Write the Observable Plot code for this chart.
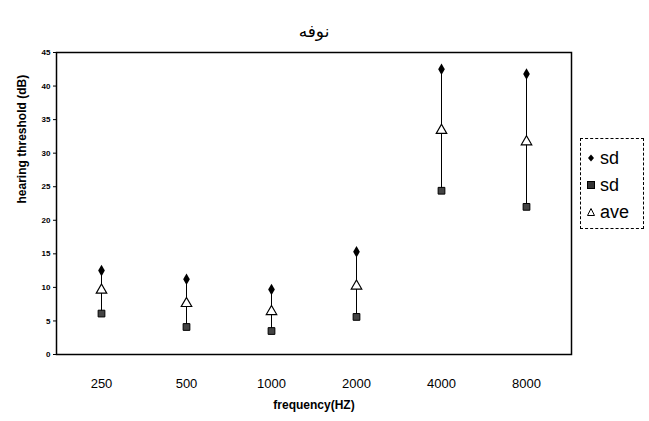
<!DOCTYPE html>
<html>
<head>
<meta charset="utf-8">
<script src="https://cdn.jsdelivr.net/npm/d3@7"></script>
<script src="https://cdn.jsdelivr.net/npm/@observablehq/plot@0.6"></script>
<style>
  body { margin: 0; background: #fff; font-family: "Liberation Sans", Arial, sans-serif; }
  #wrap { position: relative; width: 649px; height: 421px; }
  #legend { position: absolute; left: 580px; top: 138px; width: 64px; height: 91px;
    border: 1px dashed #000; box-sizing: border-box; font-size: 18px; color: #000; }
  .item { position: absolute; left: 6px; display: flex; align-items: center; height: 20px; }
  .item svg { margin-right: 5px; }
</style>
</head>
<body>
<div id="wrap"></div>
<script>
const freqs = ["250", "500", "1000", "2000", "4000", "8000"];
const sdHigh = [12.5, 11.2, 9.7, 15.3, 42.5, 41.8];
const sdLow = [6.1, 4.1, 3.5, 5.6, 24.4, 22.0];
const ave = [9.6, 7.6, 6.4, 10.2, 33.4, 31.7];
const yTicks = [0, 5, 10, 15, 20, 25, 30, 35, 40, 45];

const rows = freqs.map((f, i) => ({ f, hi: sdHigh[i], lo: sdLow[i], ave: ave[i] }));

const chart = Plot.plot({
  width: 649,
  height: 421,
  marginTop: 52,
  marginBottom: 67,
  marginLeft: 56,
  marginRight: 78,
  style: { fontFamily: "Liberation Sans, Arial, sans-serif", background: "#fff" },
  x: { type: "point", domain: freqs, padding: 0.5, label: null },
  y: { domain: [0, 45], ticks: yTicks, label: null },
  marks: [
    Plot.frame({ stroke: "#000", strokeWidth: 1.5 }),
    Plot.axisY({ ticks: yTicks, tickSize: 3, tickPadding: 3, fontSize: 8, fontWeight: "bold", label: null }),
    Plot.axisX({ tickSize: 0, tickPadding: 24, fontSize: 13, label: null }),
    Plot.text(["hearing threshold (dB)"], { frameAnchor: "left", rotate: -90, dx: -34, fontSize: 12, fontWeight: "bold" }),
    Plot.text(["frequency(HZ)"], { frameAnchor: "bottom", dy: 54, fontSize: 12, fontWeight: "bold" }),
    Plot.text(["نوفه"], { frameAnchor: "top", dy: -28, fontSize: 17, fontFamily: "Noto Sans, DejaVu Sans, sans-serif" }),
    Plot.ruleX(rows, { x: "f", y1: "lo", y2: "hi", stroke: "#000", strokeWidth: 1 }),
    Plot.dot(rows, { x: "f", y: "hi", symbol: "diamond", r: 3.5, fill: "#000" }),
    Plot.dot(rows, { x: "f", y: "lo", symbol: "square", r: 3.8, fill: "#444", stroke: "#000", strokeWidth: 1 }),
    Plot.dot(rows, { x: "f", y: "ave", symbol: "triangle2", r: 5, fill: "#fff", stroke: "#000", strokeWidth: 1.2 })
  ]
});
const wrap = document.getElementById("wrap");
wrap.appendChild(chart);

const legend = document.createElement("div");
legend.id = "legend";
legend.innerHTML = `
  <div class="item" style="top:9px"><svg width="8" height="10"><path d="M4,1.5L7,5L4,8.5L1,5Z" fill="#000"/></svg>sd</div>
  <div class="item" style="top:36px"><svg width="8" height="10"><rect x="0.5" y="1.5" width="7" height="7" fill="#333" stroke="#000"/></svg>sd</div>
  <div class="item" style="top:63px"><svg width="8" height="10"><path d="M4,1.5L7.5,8.5L0.5,8.5Z" fill="#fff" stroke="#000"/></svg>ave</div>`;
wrap.appendChild(legend);
</script>
</body>
</html>
